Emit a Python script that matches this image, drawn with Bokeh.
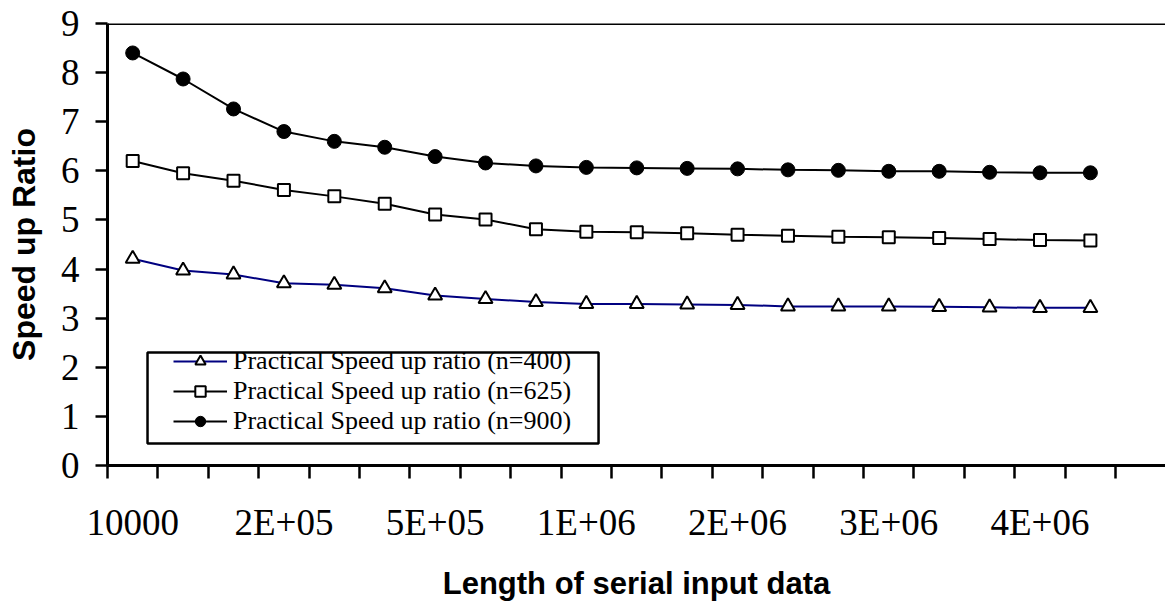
from bokeh.plotting import figure
from bokeh.models import Range1d, FixedTicker, Span, Legend, LegendItem, BoxAnnotation
from bokeh.embed import file_html
from bokeh.resources import INLINE

# ---- data ----
tick_labels = ["10000", "2E+05", "5E+05", "1E+06", "2E+06", "3E+06", "4E+06"]
label_step = 3
s400 = [4.21, 3.97, 3.89, 3.71, 3.68, 3.61, 3.46, 3.39, 3.33, 3.29,
        3.29, 3.28, 3.27, 3.24, 3.24, 3.24, 3.23, 3.22, 3.21, 3.21]
s625 = [6.20, 5.95, 5.80, 5.61, 5.48, 5.33, 5.11, 5.01, 4.81, 4.76,
        4.75, 4.73, 4.70, 4.68, 4.66, 4.65, 4.63, 4.61, 4.59, 4.58]
s900 = [8.40, 7.87, 7.26, 6.80, 6.60, 6.48, 6.29, 6.16, 6.10, 6.07,
        6.06, 6.05, 6.04, 6.02, 6.01, 5.99, 5.99, 5.97, 5.96, 5.96]
names = ["Practical Speed up ratio (n=400)",
         "Practical Speed up ratio (n=625)",
         "Practical Speed up ratio (n=900)"]
x = list(range(len(s400)))

SERIF = "Liberation Serif"
SANS = "Liberation Sans"

p = figure(width=1165, height=603, output_backend="svg", toolbar_location=None,
           x_range=Range1d(-0.5, 20.49), y_range=Range1d(0, 9),
           min_border_left=107, min_border_top=23, min_border_right=0,
           min_border_bottom=138)
p.outline_line_color = None
p.xgrid.visible = False
p.ygrid.visible = False

# y axis
ya = p.yaxis[0]
ya.ticker = FixedTicker(ticks=list(range(10)), minor_ticks=[])
ya.axis_line_width = 3
ya.major_tick_line_width = 2.5
ya.major_tick_out = 12
ya.major_tick_in = 0
ya.minor_tick_out = 0
ya.minor_tick_in = 0
ya.major_label_text_font = SERIF
ya.major_label_text_font_size = "37px"
ya.major_label_text_color = "black"
ya.major_label_standoff = 16
ya.axis_label = "Speed up Ratio"
ya.axis_label_text_font = SANS
ya.axis_label_text_font_style = "bold"
ya.axis_label_text_font_size = "32px"
ya.axis_label_text_color = "black"
ya.axis_label_standoff = 16

# x axis
xa = p.xaxis[0]
xa.ticker = FixedTicker(ticks=x, minor_ticks=[k - 0.5 for k in range(len(x) + 2)])
xa.major_label_overrides = {i: (tick_labels[i // label_step] if i % label_step == 0 else "")
                            for i in x}
xa.axis_line_width = 3
xa.major_tick_out = 0
xa.major_tick_in = 0
xa.minor_tick_out = 13
xa.minor_tick_in = 0
xa.minor_tick_line_width = 2.5
xa.major_label_text_font = SERIF
xa.major_label_text_font_size = "37px"
xa.major_label_text_color = "black"
xa.major_label_standoff = 23
xa.axis_label = "Length of serial input data"
xa.axis_label_text_font = SANS
xa.axis_label_text_font_style = "bold"
xa.axis_label_text_font_size = "31px"
xa.axis_label_text_color = "black"
xa.axis_label_standoff = 20

p.add_layout(Span(location=9, dimension="width", line_color="black", line_width=3))

# series
l400 = p.line(x, s400, line_color="#000080", line_width=2)
m400 = p.scatter(x, s400, marker="triangle", size=14, fill_color="white",
                 line_color="black", line_width=2)
l625 = p.line(x, s625, line_color="black", line_width=2)
m625 = p.scatter(x, s625, marker="square", size=12, fill_color="white",
                 line_color="black", line_width=2)
l900 = p.line(x, s900, line_color="black", line_width=2)
m900 = p.scatter(x, s900, marker="circle", size=14, fill_color="black",
                 line_color="black", line_width=1)

# legend frame
p.add_layout(BoxAnnotation(left=0.294, right=9.242, bottom=0.448, top=2.30,
                           fill_color=None, fill_alpha=0, line_color="black",
                           line_alpha=1.0, line_width=2.5))

legend = Legend(items=[LegendItem(label=names[0], renderers=[l400, m400]),
                       LegendItem(label=names[1], renderers=[l625, m625]),
                       LegendItem(label=names[2], renderers=[l900, m900])],
                location=(66, 29), padding=0, spacing=0, margin=0,
                glyph_width=54, glyph_height=26, label_height=26, label_standoff=6,
                label_text_font=SERIF, label_text_font_size="26px",
                label_text_color="black",
                border_line_color=None, background_fill_alpha=0)
p.add_layout(legend, "center")

open("out.html", "w").write(file_html(p, INLINE))
